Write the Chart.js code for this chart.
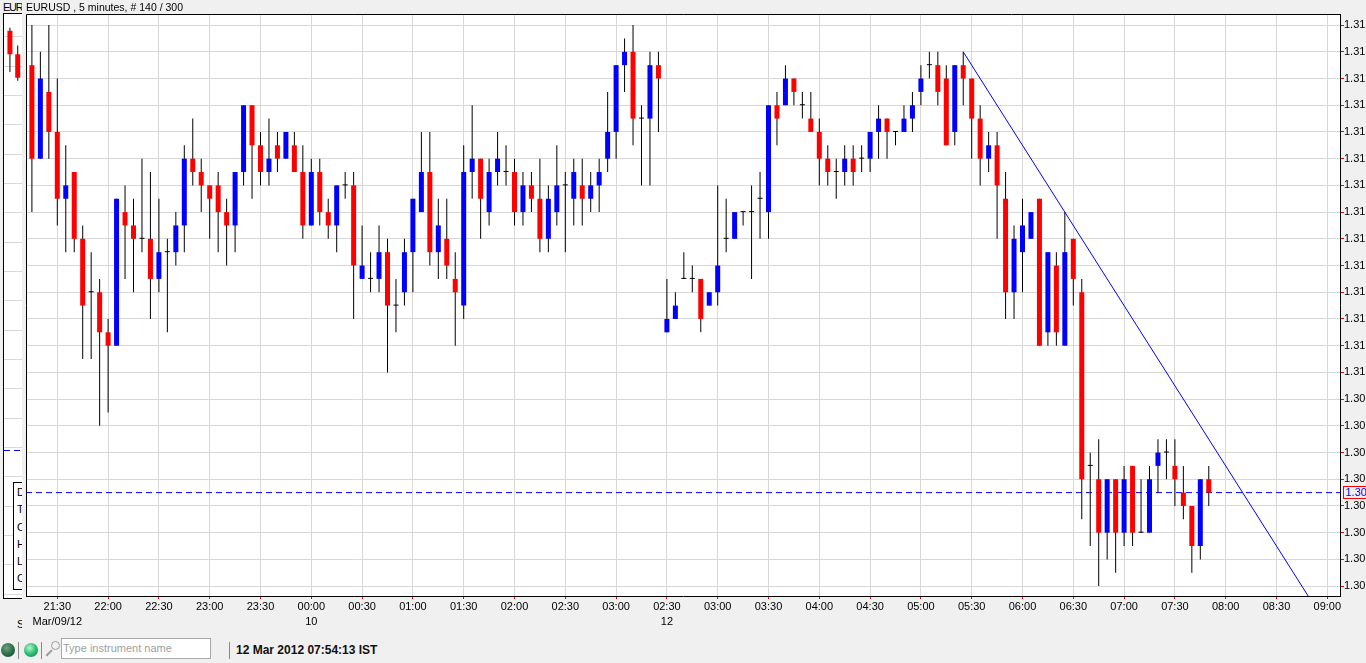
<!DOCTYPE html>
<html>
<head>
<meta charset="utf-8">
<title>EURUSD 5 minutes</title>
<script src="https://cdn.jsdelivr.net/npm/chart.js@4.4.1/dist/chart.umd.min.js"></script>
<style>
  html, body { margin: 0; padding: 0; width: 1366px; height: 663px; overflow: hidden; background: #f0f0f0;
    font-family: "Liberation Sans", Arial, sans-serif; color: #000; }
  #side { position: absolute; left: 0; top: 0; width: 22px; height: 640px; overflow: hidden; }
  #sideTitle { position: absolute; left: 3px; top: 1px; font-size: 11px; line-height: 13px; white-space: nowrap;
    letter-spacing: -1.3px; color: #000; }
  #sideFrame { position: absolute; left: 3px; top: 13px; width: 60px; height: 584px; border: 1px solid #000; background: #fff; }
  #sideCanvas { position: absolute; left: 0; top: 0; }
  #dataWin { position: absolute; left: 13px; top: 482px; width: 40px; height: 108px; border: 1px solid #000; background: #fff;
    font-size: 11px; line-height: 17.3px; padding: 1px 0 0 3px; box-sizing: border-box; }
  #sideS { position: absolute; left: 17px; top: 618px; font-size: 11px; }
  #main { position: absolute; left: 0; top: 0; }
  #title { position: absolute; left: 26px; top: 1px; font-size: 10.5px; line-height: 13px; white-space: nowrap; }
  .sep { position: absolute; top: 642px; width: 1px; height: 17px; background: #8a8a8a; }
  .led { position: absolute; top: 643px; width: 14px; height: 14px; border-radius: 50%; }
  #led1 { left: 1px; background: radial-gradient(circle at 40% 35%, #6aa583, #2a6a45 55%, #163d28); }
  #led2 { left: 24px; background: radial-gradient(circle at 40% 35%, #b5f5d0, #2cc071 50%, #0c7a3e); }
  #lens { position: absolute; left: 51px; top: 641px; width: 7px; height: 7px; border: 1.5px solid #9b9b9b; border-radius: 50%; }
  #handle { position: absolute; left: 45px; top: 652px; width: 8px; height: 1.5px; background: #9b9b9b; transform: rotate(-45deg); }
  #search { position: absolute; left: 61px; top: 638px; width: 150px; height: 21px; border: 1px solid #a9a9a9; background: #fff;
    box-sizing: border-box; font-size: 11px; line-height: 19px; padding-left: 1px; color: #a0a0a0; }
  #clock { position: absolute; left: 236px; top: 643px; font-size: 12px; line-height: 14px; font-weight: bold; color: #111; white-space: nowrap; }
</style>
</head>
<body>
<div id="side">
  <div id="sideTitle">EURUSD</div>
  <div id="sideFrame"><canvas id="sideCanvas" width="40" height="584"></canvas></div>
  <div id="dataWin">D<br>T<br>O<br>H<br>L<br>C</div>
  <div id="sideS">S</div>
</div>
<canvas id="main" width="1366" height="632"></canvas>
<div id="title">EURUSD , 5 minutes, # 140 / 300</div>

<div id="led1" class="led"></div>
<div class="sep" style="left:18px"></div>
<div id="led2" class="led"></div>
<div class="sep" style="left:41px"></div>
<div id="lens"></div><div id="handle"></div>
<div id="search">Type instrument name</div>
<div class="sep" style="left:229px"></div>
<div id="clock">12 Mar 2012 07:54:13 IST</div>

<script>
// candele 5 minuti: 75 del venerdi 9 marzo (21:15 - 03:25) e 65 di lunedi 12 (02:30 - 07:50)
const opens = [
  1.3074, 1.3067, 1.3072, 1.3069, 1.3064, 1.3066, 1.3061, 1.3057, 1.3057, 1.3054,
  1.3053, 1.3063, 1.3062, 1.3061, 1.3061, 1.3058, 1.3060, 1.3060, 1.3062, 1.3067,
  1.3066, 1.3065, 1.3065, 1.3063, 1.3062, 1.3066, 1.3071, 1.3068, 1.3066, 1.3068,
  1.3067, 1.3068, 1.3066, 1.3062, 1.3066, 1.3063, 1.3062, 1.3065, 1.3065, 1.3058,
  1.3058, 1.3058, 1.3060, 1.3056, 1.3057, 1.3060, 1.3063, 1.3066, 1.3060, 1.3061,
  1.3058, 1.3056, 1.3066, 1.3067, 1.3063, 1.3066, 1.3066, 1.3066, 1.3063, 1.3065,
  1.3064, 1.3061, 1.3063, 1.3065, 1.3064, 1.3065, 1.3064, 1.3065, 1.3067, 1.3069,
  1.3074, 1.3075, 1.3070, 1.3070, 1.3074,
  1.3054, 1.3055, 1.3058, 1.3058, 1.3058, 1.3056, 1.3057, 1.3061, 1.3061, 1.3063,
  1.3063, 1.3064, 1.3063, 1.3071, 1.3071, 1.3073, 1.3071, 1.3070, 1.3069, 1.3067,
  1.3066, 1.3066, 1.3067, 1.3067, 1.3067, 1.3069, 1.3070, 1.3069, 1.3069, 1.3070,
  1.3072, 1.3074, 1.3074, 1.3073, 1.3069, 1.3074, 1.3073, 1.3070, 1.3067, 1.3068,
  1.3064, 1.3057, 1.3060, 1.3061, 1.3064, 1.3054, 1.3059, 1.3053, 1.3061, 1.3057,
  1.3044, 1.3043, 1.3039, 1.3043, 1.3039, 1.3044, 1.3039, 1.3039, 1.3044, 1.3045,
  1.3044, 1.3042, 1.3041, 1.3038, 1.3043
];
const highs = [
  1.3077, 1.3075, 1.3077, 1.3073, 1.3068, 1.3066, 1.3062, 1.3060, 1.3058, 1.3055,
  1.3064, 1.3065, 1.3064, 1.3067, 1.3066, 1.3064, 1.3061, 1.3063, 1.3068, 1.3070,
  1.3067, 1.3065, 1.3066, 1.3064, 1.3066, 1.3071, 1.3071, 1.3069, 1.3070, 1.3069,
  1.3069, 1.3069, 1.3068, 1.3067, 1.3067, 1.3064, 1.3065, 1.3066, 1.3066, 1.3062,
  1.3060, 1.3062, 1.3061, 1.3058, 1.3061, 1.3064, 1.3069, 1.3069, 1.3064, 1.3064,
  1.3060, 1.3068, 1.3071, 1.3067, 1.3067, 1.3069, 1.3068, 1.3067, 1.3066, 1.3066,
  1.3067, 1.3065, 1.3068, 1.3066, 1.3067, 1.3067, 1.3066, 1.3067, 1.3072, 1.3074,
  1.3076, 1.3077, 1.3071, 1.3075, 1.3075,
  1.3058, 1.3057, 1.3060, 1.3059, 1.3058, 1.3057, 1.3065, 1.3064, 1.3063, 1.3063,
  1.3065, 1.3066, 1.3071, 1.3072, 1.3074, 1.3073, 1.3072, 1.3072, 1.3070, 1.3068,
  1.3067, 1.3068, 1.3068, 1.3068, 1.3069, 1.3071, 1.3070, 1.3069, 1.3071, 1.3072,
  1.3074, 1.3075, 1.3075, 1.3074, 1.3074, 1.3075, 1.3073, 1.3071, 1.3069, 1.3069,
  1.3066, 1.3062, 1.3064, 1.3063, 1.3064, 1.3060, 1.3060, 1.3063, 1.3061, 1.3058,
  1.3045, 1.3046, 1.3043, 1.3043, 1.3044, 1.3044, 1.3043, 1.3044, 1.3046, 1.3046,
  1.3046, 1.3044, 1.3041, 1.3043, 1.3044
];
const lows = [
  1.3063, 1.3067, 1.3067, 1.3062, 1.3060, 1.3060, 1.3052, 1.3052, 1.3047, 1.3048,
  1.3053, 1.3058, 1.3057, 1.3060, 1.3055, 1.3057, 1.3054, 1.3059, 1.3060, 1.3065,
  1.3063, 1.3061, 1.3060, 1.3059, 1.3060, 1.3065, 1.3064, 1.3065, 1.3065, 1.3066,
  1.3067, 1.3066, 1.3061, 1.3062, 1.3062, 1.3061, 1.3060, 1.3064, 1.3055, 1.3058,
  1.3057, 1.3057, 1.3051, 1.3054, 1.3056, 1.3057, 1.3063, 1.3059, 1.3058, 1.3058,
  1.3053, 1.3055, 1.3064, 1.3061, 1.3062, 1.3065, 1.3065, 1.3062, 1.3062, 1.3063,
  1.3060, 1.3060, 1.3062, 1.3060, 1.3062, 1.3062, 1.3063, 1.3063, 1.3066, 1.3067,
  1.3072, 1.3068, 1.3065, 1.3065, 1.3069,
  1.3054, 1.3055, 1.3058, 1.3057, 1.3054, 1.3056, 1.3056, 1.3060, 1.3061, 1.3062,
  1.3058, 1.3061, 1.3061, 1.3068, 1.3071, 1.3071, 1.3070, 1.3069, 1.3065, 1.3065,
  1.3064, 1.3065, 1.3065, 1.3066, 1.3066, 1.3067, 1.3067, 1.3068, 1.3069, 1.3069,
  1.3071, 1.3073, 1.3071, 1.3068, 1.3068, 1.3071, 1.3067, 1.3065, 1.3066, 1.3061,
  1.3055, 1.3055, 1.3057, 1.3061, 1.3053, 1.3053, 1.3053, 1.3053, 1.3056, 1.3040,
  1.3038, 1.3035, 1.3037, 1.3036, 1.3038, 1.3038, 1.3039, 1.3039, 1.3042, 1.3043,
  1.3041, 1.3040, 1.3036, 1.3037, 1.3041
];
const closes = [
  1.3067, 1.3073, 1.3069, 1.3064, 1.3065, 1.3061, 1.3056, 1.3057, 1.3054, 1.3053,
  1.3064, 1.3062, 1.3061, 1.3061, 1.3058, 1.3060, 1.3060, 1.3062, 1.3067, 1.3066,
  1.3065, 1.3064, 1.3063, 1.3062, 1.3066, 1.3071, 1.3068, 1.3066, 1.3067, 1.3067,
  1.3069, 1.3066, 1.3062, 1.3066, 1.3063, 1.3062, 1.3065, 1.3065, 1.3059, 1.3059,
  1.3058, 1.3060, 1.3056, 1.3056, 1.3060, 1.3064, 1.3066, 1.3060, 1.3062, 1.3059,
  1.3057, 1.3066, 1.3067, 1.3064, 1.3066, 1.3067, 1.3066, 1.3063, 1.3065, 1.3064,
  1.3061, 1.3064, 1.3065, 1.3065, 1.3066, 1.3064, 1.3065, 1.3066, 1.3069, 1.3074,
  1.3075, 1.3070, 1.3070, 1.3074, 1.3073,
  1.3055, 1.3056, 1.3058, 1.3058, 1.3055, 1.3057, 1.3059, 1.3061, 1.3063, 1.3063,
  1.3063, 1.3064, 1.3071, 1.3070, 1.3073, 1.3072, 1.3071, 1.3069, 1.3067, 1.3066,
  1.3066, 1.3067, 1.3066, 1.3067, 1.3069, 1.3070, 1.3069, 1.3069, 1.3070, 1.3071,
  1.3073, 1.3074, 1.3072, 1.3068, 1.3074, 1.3073, 1.3070, 1.3067, 1.3068, 1.3065,
  1.3057, 1.3061, 1.3062, 1.3063, 1.3053, 1.3060, 1.3054, 1.3060, 1.3058, 1.3043,
  1.3044, 1.3039, 1.3043, 1.3039, 1.3043, 1.3039, 1.3039, 1.3043, 1.3045, 1.3045,
  1.3043, 1.3041, 1.3038, 1.3043, 1.3042
];

// etichette asse tempo (ogni 30 minuti) e riga delle date
const xTickLabels = ["21:30", "22:00", "22:30", "23:00", "23:30", "00:00", "00:30", "01:00", "01:30",
  "02:00", "02:30", "03:00", "02:30", "03:00", "03:30", "04:00", "04:30", "05:00", "05:30",
  "06:00", "06:30", "07:00", "07:30", "08:00", "08:30", "09:00"];
const xDateLabels = ["Mar/09/12", "", "", "", "", "10", "", "", "", "", "", "", "12",
  "", "", "", "", "", "", "", "", "", "", "", "", ""];
const yTickValues = [1.3077, 1.3075, 1.3073, 1.3071, 1.3069, 1.3067, 1.3065, 1.3063, 1.3061, 1.3059, 1.3057,
  1.3055, 1.3053, 1.3051, 1.3049, 1.3047, 1.3045, 1.3043, 1.3041, 1.3039, 1.3037, 1.3035];

// linea di tendenza disegnata a mano (indice candela, prezzo)
const trendX = [110, 152];
const trendY = [1.3075, 1.3033];

// finestra laterale (altro grafico, quasi tutto nascosto)
const sideOpens = [1.3142, 1.3134];
const sideHighs = [1.3143, 1.3137];
const sideLows = [1.3128, 1.3125];
const sideCloses = [1.3134, 1.3126];
const sidePrice = 1.2999;
const sideTickValues = [1.3140, 1.3130, 1.3120, 1.3110, 1.3100, 1.3090, 1.3080, 1.3070, 1.3060, 1.3050,
  1.3040, 1.3030, 1.3020, 1.3010, 1.3000, 1.2990, 1.2980, 1.2970, 1.2960, 1.2950];

const FONT = "'Liberation Sans', Arial, sans-serif";
Chart.defaults.font.family = FONT;
Chart.defaults.font.size = 11;
Chart.defaults.color = "#000";

const xMin = -0.697;
const xMax = 154.5;
const firstTick = 3; // la candela delle 21:30
const lastPrice = closes[closes.length - 1];

function candleColor(o, c) {
  if (o === c) return "#000000";
  return c < o ? "#ff0000" : "#0000ff";
}

const bodies = opens.map((o, i) => ({ x: i, y: [o, closes[i]] }));
const wicks = lows.map((l, i) => ({ x: i, y: [l, highs[i]] }));

// sfondo bianco, cornice e riquadro del prezzo corrente
const frame = {
  id: "frame",
  beforeDraw(chart) {
    const a = chart.chartArea;
    const ctx = chart.ctx;
    ctx.save();
    ctx.fillStyle = "#ffffff";
    ctx.fillRect(a.left, a.top, a.right - a.left, a.bottom - a.top);
    ctx.restore();
  },
  afterDraw(chart) {
    const a = chart.chartArea;
    const ctx = chart.ctx;
    ctx.save();
    ctx.strokeStyle = "#000";
    ctx.lineWidth = 1;
    ctx.beginPath();
    ctx.moveTo(a.left + 0.5, a.bottom);
    ctx.lineTo(a.left + 0.5, a.top + 0.5);
    ctx.lineTo(a.right, a.top + 0.5);
    ctx.stroke();

    const y = Math.round(chart.scales.y.getPixelForValue(lastPrice));
    ctx.strokeStyle = "#ff0000";
    ctx.strokeRect(a.right + 3.5, y - 6.5, 23, 12);
    ctx.fillStyle = "#0000ff";
    ctx.font = "11px " + FONT;
    ctx.textBaseline = "middle";
    ctx.fillText(lastPrice.toFixed(2), a.right + 5.5, y);
    ctx.restore();
  }
};

new Chart(document.getElementById("main"), {
  type: "bar",
  data: {
    datasets: [
      {
        type: "line",
        data: [{ x: trendX[0], y: trendY[0] }, { x: trendX[1], y: trendY[1] }],
        borderColor: "#0000ff",
        borderWidth: 1,
        pointRadius: 0,
        order: 0
      },
      {
        data: bodies,
        backgroundColor: (ctx) => candleColor(opens[ctx.dataIndex], closes[ctx.dataIndex]),
        grouped: false,
        maxBarThickness: 5,
        minBarLength: 1,
        order: 1
      },
      {
        data: wicks,
        backgroundColor: "#000000",
        grouped: false,
        maxBarThickness: 1,
        order: 2
      },
      {
        type: "line",
        data: [{ x: xMin, y: lastPrice }, { x: xMax, y: lastPrice }],
        borderColor: "#0000ff",
        borderWidth: 1,
        borderDash: [6, 4],
        pointRadius: 0,
        order: 3
      }
    ]
  },
  options: {
    responsive: false,
    animation: false,
    events: [],
    layout: { padding: { left: 26, top: 14, right: 0, bottom: 0 } },
    plugins: { legend: { display: false }, tooltip: { enabled: false } },
    scales: {
      x: {
        type: "linear",
        position: "bottom",
        min: xMin,
        max: xMax,
        offset: false,
        afterBuildTicks: (scale) => {
          scale.ticks = xTickLabels.map((t, k) => ({ value: firstTick + k * 6 }));
        },
        afterFit: (scale) => { scale.height = 36; },
        ticks: {
          autoSkip: false,
          maxRotation: 0,
          padding: 0,
          font: { size: 11, lineHeight: 1.4 },
          callback: (value, k) => xDateLabels[k] ? [xTickLabels[k], xDateLabels[k]] : xTickLabels[k]
        },
        grid: { offset: false, color: "#d8d8d8", tickColor: "#ff0000", tickLength: 3 },
        border: { color: "#000", width: 1 }
      },
      y: {
        type: "linear",
        position: "right",
        min: 1.3034259,
        max: 1.3077831,
        afterBuildTicks: (scale) => {
          scale.ticks = yTickValues.map((v) => ({ value: v }));
        },
        afterFit: (scale) => { scale.width = 26; },
        ticks: { padding: 0, font: { size: 11 }, callback: (v) => v.toFixed(2) },
        grid: { color: "#d8d8d8", tickColor: "#ff0000", tickLength: 4 },
        border: { color: "#000", width: 1 }
      }
    }
  },
  plugins: [frame]
});

// grafico laterale
new Chart(document.getElementById("sideCanvas"), {
  type: "bar",
  data: {
    datasets: [
      {
        data: sideOpens.map((o, i) => ({ x: i, y: [o, sideCloses[i]] })),
        backgroundColor: (ctx) => candleColor(sideOpens[ctx.dataIndex], sideCloses[ctx.dataIndex]),
        grouped: false,
        maxBarThickness: 5,
        order: 1
      },
      {
        data: sideLows.map((l, i) => ({ x: i, y: [l, sideHighs[i]] })),
        backgroundColor: "#000000",
        grouped: false,
        maxBarThickness: 1,
        order: 2
      },
      {
        type: "line",
        data: [{ x: -0.76, y: sidePrice }, { x: 4.37, y: sidePrice }],
        borderColor: "#0000ff",
        borderWidth: 1,
        borderDash: [6, 4],
        pointRadius: 0,
        order: 3
      }
    ]
  },
  options: {
    responsive: false,
    animation: false,
    events: [],
    layout: { padding: 0 },
    plugins: { legend: { display: false }, tooltip: { enabled: false } },
    scales: {
      x: { type: "linear", min: -0.76, max: 4.37, display: false, offset: false },
      y: {
        type: "linear",
        position: "left",
        min: 1.294874,
        max: 1.314772,
        afterBuildTicks: (scale) => {
          scale.ticks = sideTickValues.map((v) => ({ value: v }));
        },
        afterFit: (scale) => { scale.width = 0; },
        ticks: { display: false },
        grid: { color: "#d8d8d8", drawTicks: false },
        border: { display: false }
      }
    }
  }
});
</script>
</body>
</html>
